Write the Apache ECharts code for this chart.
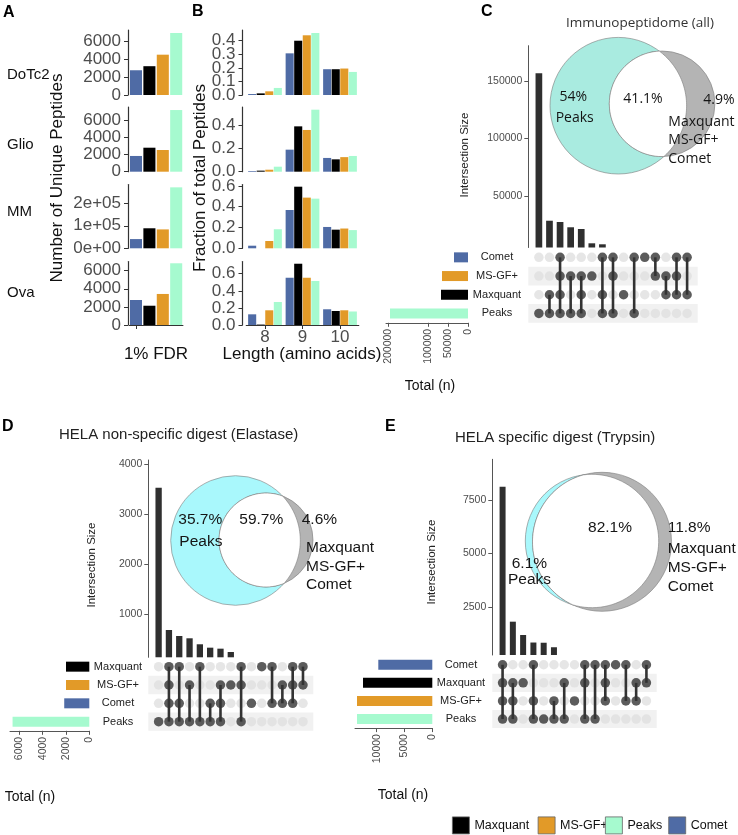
<!DOCTYPE html>
<html><head><meta charset="utf-8">
<script src="https://cdn.jsdelivr.net/npm/echarts@6/dist/echarts.min.js"></script>
<style>html,body{margin:0;padding:0;background:#fff}#c{width:738px;height:835px}</style>
</head><body><div id="c"></div>
<script>
// ================= DATA =================
const methods = ['Comet', 'Maxquant', 'MS-GF+', 'Peaks'];
const methodColors = ['#4f6ba5', '#000000', '#e29a28', '#a6facf'];
const cellLines = ['DoTc2', 'Glio', 'MM', 'Ova'];

// Panel A: number of unique peptides at 1% FDR (order = methods)
const uniqueDoTc2 = [2750, 3200, 4480, 6890];
const uniqueGlio  = [1830, 2790, 2520, 7170];
const uniqueMM    = [41000, 89000, 84000, 271000];
const uniqueOva   = [2760, 2130, 3430, 6820];
const uniqueTicksSmall = [0, 2000, 4000, 6000];
const uniqueTicksMM    = [0, 100000, 200000];

// Panel B: fraction of total peptides by length (rows = methods, cols = lengths)
const lengths = ['8', '9', '10'];
const fracDoTc2 = [[0.007, 0.307, 0.190], [0.012, 0.400, 0.190], [0.027, 0.440, 0.195], [0.052, 0.457, 0.170]];
const fracGlio  = [[0.006, 0.189, 0.118], [0.009, 0.389, 0.106], [0.017, 0.358, 0.125], [0.043, 0.532, 0.135]];
const fracMM    = [[0.025, 0.368, 0.205], [0.000, 0.592, 0.179], [0.070, 0.487, 0.190], [0.183, 0.477, 0.175]];
const fracOva   = [[0.125, 0.553, 0.184], [0.005, 0.717, 0.164], [0.172, 0.553, 0.172], [0.269, 0.515, 0.158]];
const fracTicksDoTc2 = [0, 0.1, 0.2, 0.3, 0.4];
const fracTicksGlio  = [0, 0.2, 0.4];
const fracTicksMM    = [0, 0.2, 0.4, 0.6];
const fracTicksOva   = [0, 0.2, 0.4, 0.6];

// Panel C: UpSet (Immunopeptidome all)
const cSetOrder  = ['Comet', 'MS-GF+', 'Maxquant', 'Peaks'];
const cSetTotals = [35000, 65000, 67500, 195000];
const cCombos = [['Peaks'], ['Maxquant','Peaks'], ['Comet','MS-GF+','Maxquant','Peaks'], ['MS-GF+','Peaks'],
  ['MS-GF+','Maxquant','Peaks'], ['MS-GF+'], ['Comet','Maxquant','Peaks'], ['Comet','MS-GF+','Peaks'], ['Maxquant'],
  ['Comet','Peaks'], ['Comet'], ['Comet','MS-GF+'], ['MS-GF+','Maxquant'], ['Comet','MS-GF+','Maxquant'], ['Comet','Maxquant']];
const cSizes = [156700, 28500, 27400, 22800, 21300, 8870, 8000, 3500, 2800, 2200, 1800, 1400, 1000, 700, 400];
const cIntersectTicks = [50000, 100000, 150000];
const cTotalTicks = [0, 50000, 100000, 200000];
const cVennPct = ['54%', '41.1%', '4.9%'];

// Panel D: UpSet (HELA Elastase)
const dSetOrder  = ['Maxquant', 'MS-GF+', 'Comet', 'Peaks'];
const dSetTotals = [2000, 2000, 2150, 6580];
const dCombos = [['Peaks'], ['Maxquant','MS-GF+','Comet','Peaks'], ['Maxquant','Comet','Peaks'], ['MS-GF+','Peaks'],
  ['Maxquant','Peaks'], ['Comet','Peaks'], ['MS-GF+','Comet','Peaks'], ['MS-GF+'], ['Maxquant','MS-GF+','Peaks'],
  ['Comet'], ['Maxquant'], ['Maxquant','Comet'], ['MS-GF+','Comet'], ['Maxquant','MS-GF+','Comet'], ['Maxquant','MS-GF+']];
const dSizes = [3533, 681, 561, 515, 395, 327, 307, 240, 110, 90, 70, 55, 40, 30, 20];
const dIntersectTicks = [1000, 2000, 3000, 4000];
const dTotalTicks = [0, 2000, 4000, 6000];
const dVennPct = ['35.7%', '59.7%', '4.6%'];

// Panel E: UpSet (HELA Trypsin)
const eSetOrder  = ['Comet', 'Maxquant', 'MS-GF+', 'Peaks'];
const eSetTotals = [9710, 12460, 13540, 13540];
const eCombos = [['Comet','Maxquant','MS-GF+','Peaks'], ['Maxquant','MS-GF+','Peaks'], ['Maxquant'], ['Comet','MS-GF+','Peaks'],
  ['Peaks'], ['MS-GF+','Peaks'], ['Maxquant','Peaks'], ['MS-GF+'], ['Comet','Maxquant','Peaks'], ['Comet','Peaks'],
  ['Comet','Maxquant','MS-GF+'], ['Comet'], ['Comet','MS-GF+'], ['Maxquant','MS-GF+'], ['Comet','Maxquant']];
const eSizes = [8114, 1830, 1210, 860, 850, 640, 250, 200, 160, 120, 90, 60, 40, 25, 10];
const eIntersectTicks = [2500, 5000, 7500];
const eTotalTicks = [0, 5000, 10000];
const eVennPct = ['6.1%', '82.1%', '11.8%'];

const vennPeaksName = 'Peaks';
const vennToolNames = ['Maxquant', 'MS-GF+', 'Comet'];
const panelTitles = ['Immunopeptidome (all)', 'HELA non-specific digest (Elastase)', 'HELA specific digest (Trypsin)'];

// ================= BUILD =================
const FONT = '"Liberation Sans", Arial, Helvetica, sans-serif';
const OPEN = '"Open Sans", "Liberation Sans", sans-serif';
const grid = [], xAxis = [], yAxis = [], series = [];
const extraY = [];
function addCart(g, x, y) {
  const i = grid.length;
  grid.push(g);
  xAxis.push(Object.assign({gridIndex: i}, x));
  yAxis.push(Object.assign({gridIndex: i}, y));
  return i;
}
const axLine = {color: '#333', width: 1.2};
const plain = v => String(v);
const lblCommon = {showMinLabel: true, showMaxLabel: true, hideOverlap: false, interval: 0};

// ---- Panel A & B facets ----
const facetTop = [30, 107, 184.5, 261.5];
const facetH = [65, 64.7, 63.8, 63.5];
const uniqueData = [uniqueDoTc2, uniqueGlio, uniqueMM, uniqueOva];
const uniqueTicks = [uniqueTicksSmall, uniqueTicksSmall, uniqueTicksMM, uniqueTicksSmall];
const uniqueMax = [7222, 7523, 283600, 7017];
const fracData = [fracDoTc2, fracGlio, fracMM, fracOva];
const fracTicks = [fracTicksDoTc2, fracTicksGlio, fracTicksMM, fracTicksOva];
const fracMax = [0.479, 0.555, 0.613, 0.743];
const sci = v => v === 0 ? '0e+00' : v.toExponential(0).replace(/e\+(\d)$/, 'e+0$1');

for (let f = 0; f < 4; f++) {
  const last = f === 3;
  let gi = addCart({left: 129.3, top: facetTop[f], width: 53.6, height: facetH[f]},
    {type: 'category', data: methods, axisLine: {show: last, lineStyle: axLine},
     axisTick: {show: last, alignWithLabel: true, length: 4, lineStyle: {color: '#333'}},
     axisLabel: {show: false}, splitLine: {show: false}},
    {type: 'value', min: 0, max: uniqueMax[f], offset: 1.3, axisLine: {show: true, lineStyle: axLine},
     axisTick: {show: true, length: 4, customValues: uniqueTicks[f], lineStyle: {color: '#333'}},
     axisLabel: Object.assign({customValues: uniqueTicks[f], fontSize: 17, color: '#4d4d4d', margin: 7,
       formatter: f === 2 ? sci : plain}, lblCommon), splitLine: {show: false}});
  methods.forEach((m, mi) => series.push({type: 'bar', name: m, xAxisIndex: gi, yAxisIndex: gi, stack: 'A' + f,
    barCategoryGap: '10%', itemStyle: {color: methodColors[mi]},
    data: methods.map((_, k) => k === mi ? uniqueData[f][mi] : '-')}));

  const ticks = fracTicks[f];
  const evenT = ticks.filter((_, k) => k % 2 === 0), oddT = ticks.filter((_, k) => k % 2 === 1);
  gi = addCart({left: 246.25, top: facetTop[f], width: 112.5, height: facetH[f]},
    {type: 'category', data: lengths, axisLine: {show: last, lineStyle: axLine},
     axisTick: {show: last, alignWithLabel: true, length: 4, lineStyle: {color: '#333'}},
     axisLabel: {show: last, fontSize: 17, color: '#4d4d4d', margin: 4}, splitLine: {show: false}},
    {type: 'value', min: 0, max: fracMax[f], offset: 3.75, axisLine: {show: true, lineStyle: axLine},
     axisTick: {show: true, length: 4, customValues: ticks, lineStyle: {color: '#333'}},
     axisLabel: Object.assign({customValues: evenT, fontSize: 17, color: '#4d4d4d', margin: 7,
       formatter: v => v.toFixed(1)}, lblCommon), splitLine: {show: false}});
  if (oddT.length) {
    extraY.push({gridIndex: gi, type: 'value', position: 'left', min: 0, max: fracMax[f], offset: 3.75,
      axisLine: {show: false}, axisTick: {show: false}, splitLine: {show: false},
      axisLabel: Object.assign({customValues: oddT, fontSize: 17, color: '#4d4d4d', margin: 7,
        formatter: v => v.toFixed(1)}, lblCommon)});
  }
  methods.forEach((m, mi) => series.push({type: 'bar', name: m, xAxisIndex: gi, yAxisIndex: gi,
    barGap: '6%', barCategoryGap: '10%', itemStyle: {color: methodColors[mi]}, data: fracData[f][mi]}));
}

// ---- UpSet plots ----
function upset(setOrder, setTotals, combos, sizes, iTicks, tTicks, L) {
  const n = combos.length;
  const upAx = {color: '#555', width: 1};
  let gi = addCart({left: L.x0, top: L.barTop, width: L.w, height: L.barBottom - L.barTop},
    {type: 'value', min: 0, max: n + 1, show: false},
    {type: 'value', min: L.yMin, max: L.yMax, axisLine: {show: true, lineStyle: upAx},
     axisTick: {show: true, length: 4, customValues: iTicks, lineStyle: upAx},
     axisLabel: Object.assign({customValues: iTicks, fontSize: 10.5, color: '#4d4d4d', margin: 6, formatter: plain}, lblCommon),
     splitLine: {show: false}});
  series.push({type: 'bar', name: 'intersections', xAxisIndex: gi, yAxisIndex: gi, barWidth: L.barW,
    itemStyle: {color: '#2f2f2f'}, data: sizes.map((v, i) => [i + 1, v])});

  gi = addCart({left: L.x0, top: L.mTop, width: L.w, height: L.rowH * 4},
    {type: 'value', min: 0, max: n + 1, show: false},
    {type: 'category', inverse: true, data: setOrder, axisLine: {show: false}, axisTick: {show: false},
     axisLabel: {align: 'center', margin: L.labelMargin, fontSize: 11, color: '#222', interval: 0},
     splitArea: {show: true, interval: 0, areaStyle: {color: ['rgba(255,255,255,0)', '#f1f1f1']}}});
  const off = [], on = [], segs = [];
  combos.forEach((combo, i) => {
    const idx = combo.map(s => setOrder.indexOf(s));
    setOrder.forEach((s, r) => (combo.includes(s) ? on : off).push([i + 1, r]));
    if (idx.length > 1) segs.push([i + 1, Math.min(...idx), Math.max(...idx)]);
  });
  series.push({type: 'scatter', name: 'off', xAxisIndex: gi, yAxisIndex: gi, symbolSize: 9.5, z: 2,
    itemStyle: {color: '#e0e0e0'}, data: off});
  series.push({type: 'custom', name: 'links', xAxisIndex: gi, yAxisIndex: gi, z: 3, encode: {x: 0, y: [1, 2]},
    data: segs, renderItem: (p, api) => {
      const a = api.coord([api.value(0), api.value(1)]), b = api.coord([api.value(0), api.value(2)]);
      return {type: 'line', shape: {x1: a[0], y1: a[1], x2: b[0], y2: b[1]}, style: {stroke: '#333', lineWidth: 2.6}};
    }});
  series.push({type: 'scatter', name: 'on', xAxisIndex: gi, yAxisIndex: gi, symbolSize: 9.5, z: 4,
    itemStyle: {color: '#333'}, data: on});

  gi = addCart({left: L.sx0, top: L.mTop, width: L.sx1 - L.sx0, height: L.rowH * 4},
    {type: 'value', inverse: true, min: 0, max: L.sMax, axisLine: {show: true, lineStyle: upAx},
     axisTick: {show: true, length: 4, customValues: tTicks, lineStyle: upAx},
     axisLabel: Object.assign({customValues: tTicks, rotate: 90, fontSize: 10.5, color: '#4d4d4d', margin: 6, formatter: plain}, lblCommon),
     splitLine: {show: false}},
    {type: 'category', inverse: true, data: setOrder, show: false});
  series.push({type: 'bar', name: 'setsize', xAxisIndex: gi, yAxisIndex: gi, barWidth: 10,
    data: setTotals.map((v, r) => ({value: v, itemStyle: {color: methodColors[methods.indexOf(setOrder[r])]}}))});
}
upset(cSetOrder, cSetTotals, cCombos, cSizes, cIntersectTicks, cTotalTicks,
  {x0: 528.3, w: 169.4, barTop: 45.7, barBottom: 247.5, yMin: 5218, yMax: 180700, barW: 6.7,
   mTop: 248, rowH: 18.7, labelMargin: 31.3, sx0: 386, sx1: 468, sMax: 205000});
upset(dSetOrder, dSetTotals, dCombos, dSizes, dIntersectTicks, dTotalTicks,
  {x0: 148.3, w: 165, barTop: 460, barBottom: 657.3, yMin: 134, yMax: 4088, barW: 6.3,
   mTop: 657.5, rowH: 18.33, labelMargin: 30.3, sx0: 10, sx1: 89.3, sMax: 6800});
upset(eSetOrder, eSetTotals, eCombos, eSizes, eIntersectTicks, eTotalTicks,
  {x0: 492.3, w: 164.4, barTop: 459.3, barBottom: 655, yMin: 279, yMax: 9390, barW: 6,
   mTop: 655.7, rowH: 18.1, labelMargin: 31.3, sx0: 355, sx1: 432.3, sMax: 13900});

// ---- Venn diagrams (pixel-identity coordinate system) ----
const vi = addCart({left: 0, top: 0, width: 738, height: 835},
  {type: 'value', min: 0, max: 738, show: false},
  {type: 'value', min: 0, max: 835, inverse: true, show: false});
function arcPts(c, r, p, q, via) {
  const TWO = 2 * Math.PI;
  const t1 = Math.atan2(p[1] - c[1], p[0] - c[0]);
  const t2 = Math.atan2(q[1] - c[1], q[0] - c[0]);
  let d = ((t2 - t1) % TWO + TWO) % TWO;
  const dv = ((via - t1) % TWO + TWO) % TWO;
  if (dv > d) d = d - TWO;
  const pts = [];
  for (let k = 0; k <= 60; k++) { const t = t1 + d * k / 60; pts.push([c[0] + r * Math.cos(t), c[1] + r * Math.sin(t)]); }
  return pts;
}
function lens(a, ra, b, rb) {
  const dx = b[0] - a[0], dy = b[1] - a[1], d = Math.hypot(dx, dy);
  const ux = dx / d, uy = dy / d;
  const t = (ra * ra - rb * rb + d * d) / (2 * d);
  const h = Math.sqrt(Math.max(0, ra * ra - t * t));
  const mx = a[0] + t * ux, my = a[1] + t * uy;
  const p1 = [mx + h * uy, my - h * ux], p2 = [mx - h * uy, my + h * ux];
  return arcPts(b, rb, p1, p2, Math.atan2(-uy, -ux)).concat(arcPts(a, ra, p2, p1, Math.atan2(uy, ux)));
}
function venn(pct, V) {
  series.push({type: 'custom', name: 'venn', xAxisIndex: vi, yAxisIndex: vi, z: 6, silent: true, data: [[0, 0]],
    renderItem: (params, api) => {
      const a = api.coord(V.a), b = api.coord(V.b);
      const ra = api.size([V.ra, 0])[0], rb = api.size([V.rb, 0])[0];
      const st = '#7a7a7a';
      const T = (text, pos, align) => {
        const q = api.coord([pos[0], pos[1]]);
        return {type: 'text', x: q[0], y: q[1], style: {text, fontSize: V.size, fontFamily: V.font, fill: '#151515', align, verticalAlign: 'middle'}};
      };
      const kids = [
        {type: 'circle', shape: {cx: a[0], cy: a[1], r: ra}, style: {fill: V.fillA, stroke: st, lineWidth: 0.6}},
        {type: 'circle', shape: {cx: b[0], cy: b[1], r: rb}, style: {fill: '#b4b4b4', stroke: st, lineWidth: 0.6}},
        {type: 'polygon', shape: {points: lens(a, ra, b, rb)}, style: {fill: '#ffffff', stroke: st, lineWidth: 0.6}},
        T(pct[0], V.pA, V.alA), T(vennPeaksName, V.nA, V.alA), T(pct[1], V.pAB, 'center'), T(pct[2], V.pB, 'left')
      ];
      vennToolNames.forEach((nm, k) => kids.push(T(nm, [V.nB[0], V.nB[1] + k * V.dy], 'left')));
      return {type: 'group', children: kids};
    }});
}
venn(cVennPct, {a: [618.3, 105.7], ra: 68.3, b: [662.1, 103.8], rb: 52.8, fillA: '#a9ebe0', font: OPEN, size: 14,
  pA: [573.3, 96.7], nA: [574.7, 118.3], alA: 'center', pAB: [643, 99.3], pB: [703.3, 100], nB: [668.3, 121.7], dy: 18.8});
venn(dVennPct, {a: [235.5, 540.5], ra: 64.8, b: [266, 540], rb: 47, fillA: '#a9f8fc', font: FONT, size: 15.5,
  pA: [178.3, 520], nA: [179.3, 541.7], alA: 'left', pAB: [261.3, 520], pB: [301.7, 520], nB: [306, 547.7], dy: 18.7});
venn(eVennPct, {a: [592, 541], ra: 66.7, b: [602, 541.8], rb: 69.5, fillA: '#a9f8fc', font: FONT, size: 15.5,
  pA: [511.7, 563.3], nA: [508, 580], alA: 'left', pAB: [610, 528], pB: [667.7, 528], nB: [667.7, 548.3], dy: 19.2});

// overlay label-only axes appended after all others (indices of the main axes unchanged)
extraY.forEach(a => yAxis.push(a));

// ---- text annotations ----
function txt(text, x, y, o) {
  o = o || {};
  return {type: 'text', x, y, rotation: o.rot || 0, silent: true,
    style: {text, fontSize: o.size || 14, fontFamily: o.font || FONT, fontWeight: o.weight || 'normal',
      fill: o.color || '#111', align: o.align || 'center', verticalAlign: 'middle'}};
}
const rowLabelY = [75, 145, 212, 293];
const els = [
  txt('A', 3, 13, {size: 16, weight: 'bold', align: 'left', color: '#000'}),
  txt('B', 192, 12, {size: 16, weight: 'bold', align: 'left', color: '#000'}),
  txt('C', 481, 12, {size: 16, weight: 'bold', align: 'left', color: '#000'}),
  txt('D', 2, 427, {size: 16, weight: 'bold', align: 'left', color: '#000'}),
  txt('E', 385, 427, {size: 16, weight: 'bold', align: 'left', color: '#000'}),
  txt('Number of Unique Peptides', 57, 178, {size: 17, rot: Math.PI / 2}),
  txt('Fraction of total Peptides', 200, 178, {size: 17, rot: Math.PI / 2}),
  txt('1% FDR', 156, 354, {size: 17}),
  txt('Length (amino acids)', 302, 354, {size: 17}),
  txt('Intersection Size', 465, 155, {size: 11.5, rot: Math.PI / 2, color: '#222'}),
  txt('Intersection Size', 92, 565, {size: 11.5, rot: Math.PI / 2, color: '#222'}),
  txt('Intersection Size', 432, 562, {size: 11.5, rot: Math.PI / 2, color: '#222'}),
  txt('Total (n)', 430, 386, {size: 14}),
  txt('Total (n)', 30, 797, {size: 14}),
  txt('Total (n)', 403, 795, {size: 14}),
  txt(panelTitles[0], 640, 22.7, {size: 13.5, font: OPEN, color: '#333'}),
  txt(panelTitles[1], 59, 435, {size: 15, align: 'left', color: '#222'}),
  txt(panelTitles[2], 455, 438, {size: 15, align: 'left', color: '#222'})
];
cellLines.forEach((c, i) => els.push(txt(c, 7, rowLabelY[i], {size: 15, align: 'left'})));

const legendBase = {orient: 'horizontal', top: 816.5, itemWidth: 17, itemHeight: 17, icon: 'rect',
  selectedMode: false, padding: 0, itemGap: 0,
  textStyle: {fontSize: 12.5, color: '#111', fontFamily: FONT},
  itemStyle: {borderColor: '#666', borderWidth: 0.8}};
const legendPos = [['Maxquant', 452], ['MS-GF+', 537.7], ['Peaks', 605], ['Comet', 668.3]];

const chart = echarts.init(document.getElementById('c'), null, {renderer: 'canvas', width: 738, height: 835});
chart.setOption({
  animation: false,
  backgroundColor: '#fff',
  textStyle: {fontFamily: FONT},
  grid, xAxis, yAxis, series,
  legend: legendPos.map(([n, l]) => Object.assign({}, legendBase, {data: [n], left: l})),
  graphic: {elements: els}
});
</script></body></html>
